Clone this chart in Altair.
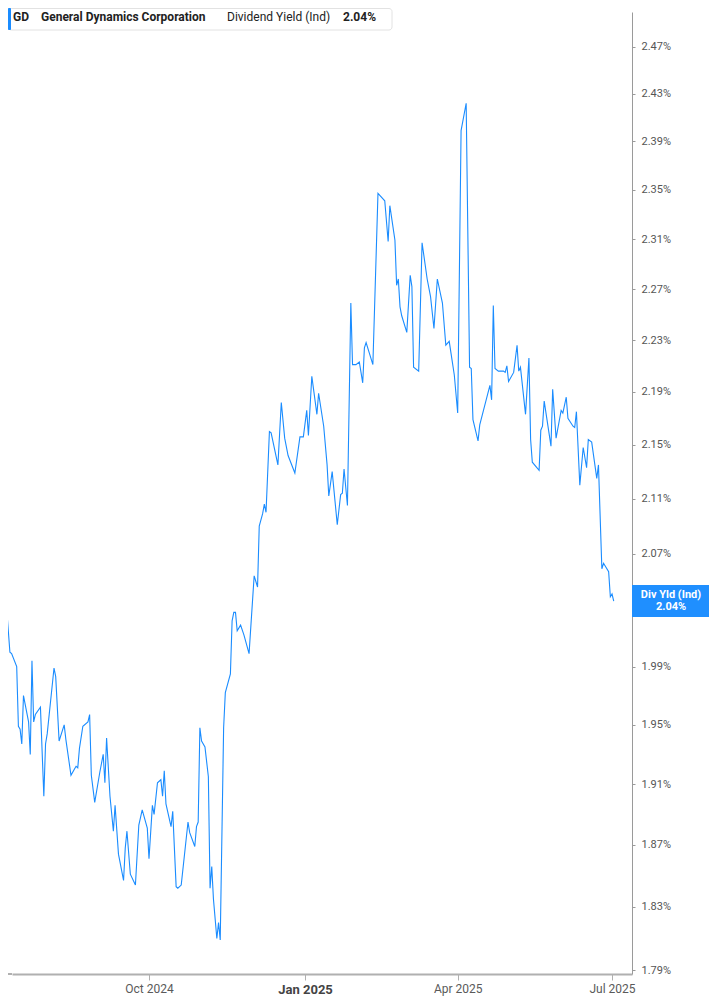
import altair as alt
import pandas as pd

# ---- data ----
dates = [
    "2024-07-05", "2024-07-07", "2024-07-09", "2024-07-11", "2024-07-12", "2024-07-15", "2024-07-16",
    "2024-07-17", "2024-07-18", "2024-07-19", "2024-07-22", "2024-07-23", "2024-07-24", "2024-07-25",
    "2024-07-26", "2024-07-29", "2024-07-31", "2024-08-01", "2024-08-02", "2024-08-06", "2024-08-07",
    "2024-08-09", "2024-08-12", "2024-08-13", "2024-08-16", "2024-08-18", "2024-08-19", "2024-08-20",
    "2024-08-21", "2024-08-23", "2024-08-26", "2024-08-27", "2024-08-28", "2024-08-30", "2024-09-02",
    "2024-09-04", "2024-09-05", "2024-09-06", "2024-09-08", "2024-09-10", "2024-09-11", "2024-09-13",
    "2024-09-16", "2024-09-17", "2024-09-18", "2024-09-20", "2024-09-23", "2024-09-25", "2024-09-27",
    "2024-09-30", "2024-10-01", "2024-10-03", "2024-10-04", "2024-10-06", "2024-10-08", "2024-10-09",
    "2024-10-10", "2024-10-11", "2024-10-14", "2024-10-15", "2024-10-17", "2024-10-18", "2024-10-20",
    "2024-10-24", "2024-10-25", "2024-10-28", "2024-10-29", "2024-10-30", "2024-10-31", "2024-11-01",
    "2024-11-03", "2024-11-05", "2024-11-06", "2024-11-07", "2024-11-08", "2024-11-10", "2024-11-11",
    "2024-11-12", "2024-11-14", "2024-11-15", "2024-11-18", "2024-11-19", "2024-11-20", "2024-11-21",
    "2024-11-22", "2024-11-24", "2024-11-26", "2024-11-29", "2024-12-02", "2024-12-04", "2024-12-05",
    "2024-12-07", "2024-12-08", "2024-12-09", "2024-12-11", "2024-12-12", "2024-12-16", "2024-12-18",
    "2024-12-20", "2024-12-22", "2024-12-26", "2024-12-29", "2024-12-31", "2025-01-02", "2025-01-03",
    "2025-01-05", "2025-01-08", "2025-01-09", "2025-01-12", "2025-01-14", "2025-01-15", "2025-01-17",
    "2025-01-20", "2025-01-22", "2025-01-23", "2025-01-24", "2025-01-26", "2025-01-28", "2025-01-29",
    "2025-01-31", "2025-02-02", "2025-02-04", "2025-02-05", "2025-02-06", "2025-02-10", "2025-02-13",
    "2025-02-17", "2025-02-19", "2025-02-20", "2025-02-23", "2025-02-24", "2025-02-25", "2025-02-26",
    "2025-02-27", "2025-03-02", "2025-03-04", "2025-03-05", "2025-03-06", "2025-03-09", "2025-03-11",
    "2025-03-14", "2025-03-16", "2025-03-18", "2025-03-20", "2025-03-23", "2025-03-25", "2025-03-27",
    "2025-03-30", "2025-04-01", "2025-04-03", "2025-04-06", "2025-04-08", "2025-04-09", "2025-04-10",
    "2025-04-13", "2025-04-14", "2025-04-20", "2025-04-21", "2025-04-22", "2025-04-23", "2025-04-25",
    "2025-04-28", "2025-04-29", "2025-04-30", "2025-05-01", "2025-05-04", "2025-05-06", "2025-05-07",
    "2025-05-08", "2025-05-11", "2025-05-13", "2025-05-14", "2025-05-15", "2025-05-19", "2025-05-20",
    "2025-05-21", "2025-05-22", "2025-05-26", "2025-05-27", "2025-05-29", "2025-06-01", "2025-06-02",
    "2025-06-04", "2025-06-05", "2025-06-08", "2025-06-09", "2025-06-10", "2025-06-12", "2025-06-14",
    "2025-06-16", "2025-06-17", "2025-06-19", "2025-06-22", "2025-06-23", "2025-06-25", "2025-06-26",
    "2025-06-29", "2025-06-30", "2025-07-01", "2025-07-02",
]

dividend_yield = [
    2.017, 2.022, 2.032, 2.000, 1.999, 1.990, 1.949,
    1.947, 1.937, 1.970, 1.952, 1.930, 1.994, 1.952,
    1.957, 1.962, 1.902, 1.937, 1.944, 1.989, 1.983,
    1.939, 1.950, 1.940, 1.916, 1.920, 1.922, 1.921,
    1.934, 1.949, 1.952, 1.957, 1.916, 1.898, 1.918,
    1.930, 1.911, 1.941, 1.902, 1.879, 1.896, 1.864,
    1.847, 1.868, 1.879, 1.851, 1.844, 1.883, 1.893,
    1.881, 1.861, 1.896, 1.890, 1.911, 1.913, 1.902,
    1.919, 1.897, 1.882, 1.892, 1.843, 1.842, 1.844,
    1.885, 1.878, 1.869, 1.882, 1.885, 1.948, 1.939,
    1.935, 1.915, 1.842, 1.856, 1.835, 1.810, 1.820,
    1.809, 1.948, 1.972, 1.985, 2.022, 2.028, 2.028,
    2.015, 2.019, 2.012, 1.999, 2.054, 2.046, 2.090,
    2.099, 2.106, 2.100, 2.160, 2.159, 2.135, 2.182,
    2.155, 2.142, 2.129, 2.156, 2.156, 2.176, 2.157,
    2.202, 2.173, 2.189, 2.164, 2.135, 2.112, 2.130,
    2.091, 2.113, 2.114, 2.132, 2.105, 2.259, 2.211,
    2.211, 2.213, 2.197, 2.224, 2.228, 2.211, 2.347,
    2.341, 2.308, 2.337, 2.309, 2.273, 2.278, 2.256,
    2.249, 2.236, 2.281, 2.272, 2.209, 2.206, 2.307,
    2.278, 2.264, 2.239, 2.278, 2.259, 2.226, 2.229,
    2.203, 2.174, 2.399, 2.422, 2.209, 2.208, 2.169,
    2.153, 2.165, 2.195, 2.184, 2.257, 2.208, 2.206,
    2.206, 2.205, 2.210, 2.198, 2.205, 2.226, 2.206,
    2.209, 2.173, 2.216, 2.154, 2.137, 2.131, 2.161,
    2.164, 2.183, 2.149, 2.192, 2.155, 2.176, 2.174,
    2.186, 2.170, 2.164, 2.163, 2.175, 2.120, 2.148,
    2.133, 2.154, 2.152, 2.125, 2.135, 2.059, 2.063,
    2.057, 2.039, 2.041, 2.036,
]

y_tick_values = [1.79, 1.83, 1.87, 1.91, 1.95, 1.99, 2.03, 2.07, 2.11, 2.15,
                 2.19, 2.23, 2.27, 2.31, 2.35, 2.39, 2.43, 2.47, 2.51]
x_tick_dates = [(2024, 10, 1), (2025, 1, 1), (2025, 4, 1), (2025, 7, 1)]

header_texts = ["GD", "General Dynamics Corporation", "Dividend Yield (Ind)", "2.04%"]
header_weights = ["bold", "bold", "normal", "bold"]
badge_lines = ["Div Yld (Ind)", "2.04%"]

# ---- chart ----
BLUE = "#1a8cff"
FONT = "Roboto"
W, H = 620, 962

df = pd.DataFrame({"date": pd.to_datetime(dates), "yield": dividend_yield})
last_df = df.tail(1)
one = pd.DataFrame({"k": [0]})

x_scale = alt.Scale(
    domain=[alt.DateTime(year=2024, month=7, date=12, hours=5, minutes=31),
            alt.DateTime(year=2025, month=7, date=12, hours=18, minutes=29)],
    nice=False,
)
y_scale = alt.Scale(type="log", domain=[1.7877, 2.5003], nice=False, zero=False)

x_axis = alt.Axis(
    values=[alt.DateTime(year=a, month=b, date=c) for a, b, c in x_tick_dates],
    labelExpr="timeFormat(datum.value, '%b %Y')",
    title=None, grid=False, domainColor="#b0b0b0", domainWidth=2,
    tickColor="#b0b0b0", tickSize=6, labelPadding=3, labelFont=FONT,
    labelFontSize=alt.condition("month(datum.value) == 0", alt.value(13), alt.value(12)),
    labelFontWeight=alt.condition("month(datum.value) == 0", alt.value("bold"), alt.value("normal")),
    labelColor=alt.condition("month(datum.value) == 0", alt.value("#444444"), alt.value("#5a5a5a")),
)
y_axis = alt.Axis(
    orient="right", values=y_tick_values,
    labelExpr="format(datum.value, '.2f') + '%'",
    title=None, grid=False, domainColor="#9a9a9a", domainWidth=1,
    tickColor="#9a9a9a", tickSize=3, labelPadding=6, labelFont=FONT,
    labelFontSize=11, labelColor="#555555",
)

line = alt.Chart(df).mark_line(color=BLUE, strokeWidth=1.1, clip=False).encode(
    x=alt.X("date:T", scale=x_scale, axis=x_axis),
    y=alt.Y("yield:Q", scale=y_scale, axis=y_axis),
)

# extend the bottom axis line to the left edge of the page like the reference
axis_ext = alt.Chart(one).mark_rule(color="#b0b0b0", strokeWidth=2).encode(
    x=alt.value(-4), x2=alt.value(0), y=alt.value(H)
)

badge = alt.Chart(last_df).mark_rect(color="#1f8fff", height=32, clip=False).encode(
    x=alt.value(W), x2=alt.value(W + 77),
    y=alt.Y("yield:Q", scale=y_scale, axis=y_axis),
)
badge_t1 = alt.Chart(last_df).mark_text(
    color="white", font=FONT, fontSize=11, fontWeight="bold", dy=-6, align="center", baseline="middle"
).encode(x=alt.value(W + 39), y=alt.Y("yield:Q", scale=y_scale, axis=y_axis), text=alt.value(badge_lines[0]))
badge_t2 = alt.Chart(last_df).mark_text(
    color="white", font=FONT, fontSize=11, fontWeight="bold", dy=6, align="center", baseline="middle"
).encode(x=alt.value(W + 39), y=alt.Y("yield:Q", scale=y_scale, axis=y_axis), text=alt.value(badge_lines[1]))

header_box = alt.Chart(one).mark_rect(
    fill="white", stroke="#e2e2e2", strokeWidth=1, cornerRadius=3
).encode(x=alt.value(-3.5), x2=alt.value(380), y=alt.value(-3.5), y2=alt.value(18))
header_bar = alt.Chart(one).mark_rect(fill=BLUE, cornerRadius=1).encode(
    x=alt.value(-4), x2=alt.value(-1), y=alt.value(-4), y2=alt.value(18)
)
header_x = [1, 29, 215, 331]
header_layers = [
    alt.Chart(one).mark_text(
        font=FONT, fontSize=12, fontWeight=wt, color="#222222", align="left", baseline="middle"
    ).encode(x=alt.value(hx), y=alt.value(5), text=alt.value(t))
    for t, wt, hx in zip(header_texts, header_weights, header_x)
]

chart = alt.layer(
    line, axis_ext, badge, badge_t1, badge_t2, header_box, header_bar, *header_layers
).properties(
    width=W, height=H,
    autosize=alt.AutoSizeParams(type="none"),
    padding={"left": 4, "top": 4, "right": 77, "bottom": 22},
).configure_view(stroke=None)

chart.save("out.html", embed_options={"renderer": "svg", "actions": False})
